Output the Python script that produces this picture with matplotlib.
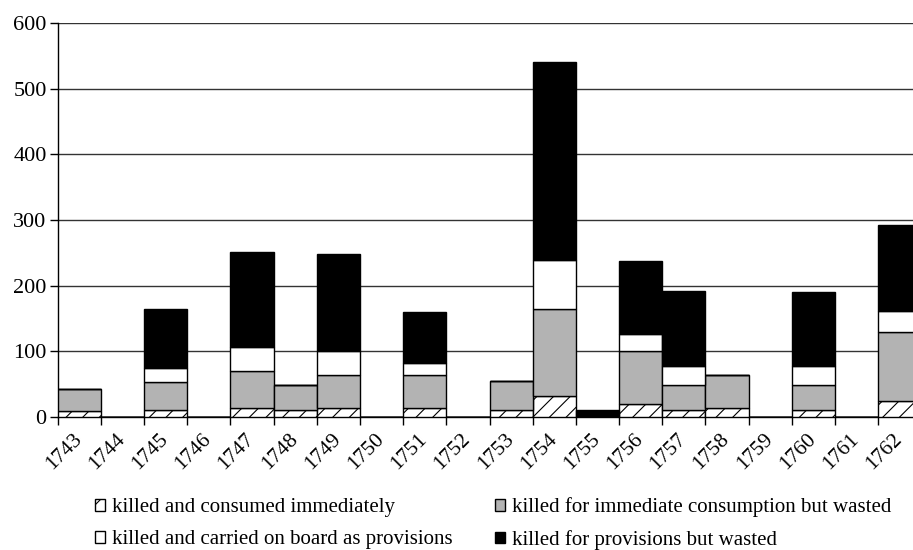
import matplotlib.pyplot as plt
import numpy as np
from matplotlib.transforms import ScaledTranslation

plt.rcParams['font.family'] = ['Liberation Serif', 'DejaVu Serif']
plt.rcParams['hatch.linewidth'] = 0.8

# data
years = [str(y) for y in range(1743, 1763)]
consumed = [9, 0, 11, 0, 14, 11, 14, 0, 14, 0, 11, 32, 0, 20, 10, 14, 0, 11, 0, 25]
immediate_wasted = [33, 0, 43, 0, 56, 38, 50, 0, 50, 0, 44, 132, 0, 80, 38, 50, 0, 37, 0, 105]
provisions = [0, 0, 21, 0, 36, 0, 37, 0, 19, 0, 0, 75, 0, 27, 30, 0, 0, 29, 0, 32]
provisions_wasted = [0, 0, 89, 0, 145, 0, 147, 0, 77, 0, 0, 301, 10, 111, 114, 0, 0, 113, 0, 131]

fig = plt.figure(figsize=(9.13, 5.5), dpi=100)
ax = fig.add_axes([0.0632, 0.2418, 0.946, 0.7164])

x = np.arange(len(years))
b1 = np.array(consumed)
b2 = b1 + np.array(immediate_wasted)
b3 = b2 + np.array(provisions)

kw = dict(width=1.0, edgecolor='black', linewidth=1.0, zorder=3)
h1 = ax.bar(x, consumed, color='white', hatch='//', label='killed and consumed immediately', **kw)
h3 = ax.bar(x, immediate_wasted, bottom=b1, color='#b3b3b3',
            label='killed for immediate consumption but wasted', **kw)
h2 = ax.bar(x, provisions, bottom=b2, color='white',
            label='killed and carried on board as provisions', **kw)
h4 = ax.bar(x, provisions_wasted, bottom=b3, color='black',
            label='killed for provisions but wasted', **kw)

ax.set_xlim(-0.5, len(years) - 0.5)
ax.set_ylim(0, 600)
ax.set_yticks(range(0, 601, 100))
ax.yaxis.grid(True, color='#333333', linewidth=1.0, zorder=0)
ax.set_axisbelow(True)

# ticks on category boundaries, labels at centres
ax.set_xticks(np.arange(-0.5, len(years), 1.0))
ax.set_xticklabels([])
ax.set_xticks(x, minor=True)
ax.set_xticklabels(years, minor=True, rotation=45, ha='right', va='top',
                   rotation_mode='anchor', fontsize=15.5)
ax.tick_params(axis='x', which='minor', length=0, pad=9)
ax.tick_params(axis='x', which='major', length=6, width=1, direction='out')
ax.tick_params(axis='y', length=6, width=1, labelsize=16, pad=2)
shift = ScaledTranslation(-5 / 72, 0, fig.dpi_scale_trans)
for lab in ax.get_xticklabels(minor=True):
    lab.set_transform(lab.get_transform() + shift)

for s in ['top', 'right']:
    ax.spines[s].set_visible(False)
ax.spines['left'].set_linewidth(1.0)
ax.spines['bottom'].set_linewidth(1.0)

fig.legend(handles=[h1, h2, h3, h4], loc='upper left', bbox_to_anchor=(0.104, 0.096),
           ncol=2, frameon=False, fontsize=15, handlelength=0.5, handleheight=0.5,
           handletextpad=0.33, columnspacing=2.0, labelspacing=0.62,
           borderpad=0, borderaxespad=0)

fig.savefig('out.png', dpi=100)
